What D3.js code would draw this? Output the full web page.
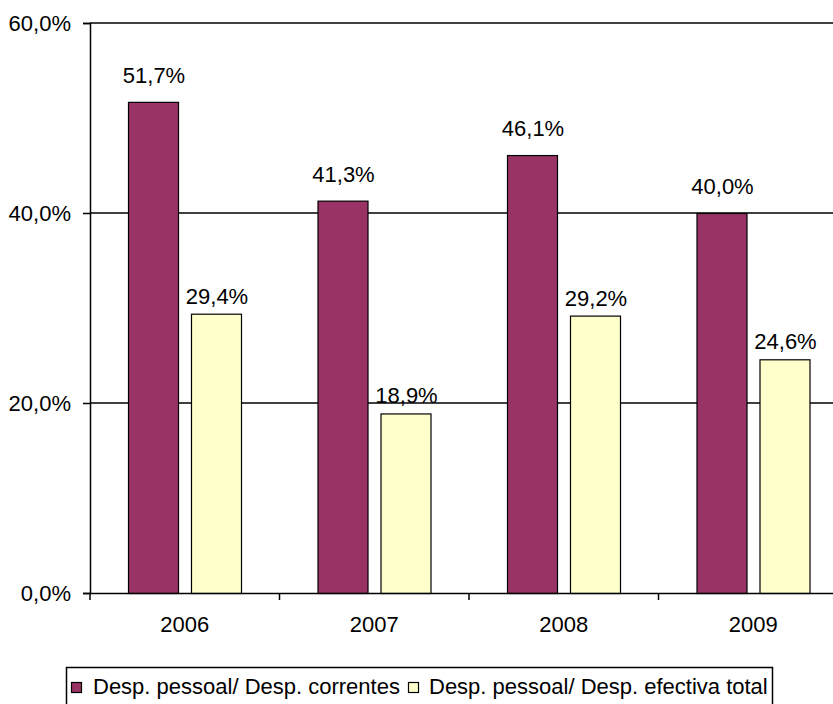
<!DOCTYPE html>
<html><head><meta charset="utf-8">
<script src="https://cdn.jsdelivr.net/npm/d3@7"></script>
<style>body{margin:0;background:#fff}svg{display:block}text{font-family:"Liberation Sans",Arial,sans-serif}</style>
</head><body>
<svg id="c" width="833" height="704"></svg>
<script>
const years = ["2006","2007","2008","2009"];
const seriesNames = ["Desp. pessoal/ Desp. correntes","Desp. pessoal/ Desp. efectiva total"];
const correntes = [51.7,41.3,46.1,40.0];
const efectiva = [29.4,18.9,29.2,24.6];
const yTicks = [0,20,40,60];
const colors = ["#993366","#FFFFCC"];

const svg = d3.select("#c");
const L=90, R=848, T=23, B=593;
const FS = 22;
const x = d3.scaleBand().domain(years).range([L,R]).paddingInner(0).paddingOuter(0);
const y = d3.scaleLinear().domain([0,60]).range([B,T]);
const fmt = v => d3.format(".1f")(v).replace(".",",")+"%";

// gridlines
svg.append("g").selectAll("line").data(yTicks.filter(d=>d>0)).join("line")
  .attr("x1",L).attr("x2",R).attr("y1",d=>y(d)).attr("y2",d=>y(d))
  .attr("stroke","#000").attr("stroke-width",1.5);

const inner = 38, bw = 50, gap = 13;
const labelOff = [19, 10];
const data = years.map((yr,i)=>({yr, vals:[correntes[i],efectiva[i]]}));
const g = svg.append("g");
data.forEach(d=>{
  d.vals.forEach((v,j)=>{
    const bx = x(d.yr) + inner + j*(bw+gap);
    g.append("rect").attr("x",bx+0.5).attr("y",y(v)+0.5).attr("width",bw).attr("height",B-y(v))
      .attr("fill",colors[j]).attr("stroke","#000").attr("stroke-width",1.2);
    g.append("text").attr("x",bx+bw/2+1).attr("y",y(v)-labelOff[j]).attr("text-anchor","middle")
      .attr("font-size",FS).attr("fill","#000").text(fmt(v));
  });
});

// y axis
const ya = d3.axisLeft(y).tickValues(yTicks).tickSize(7).tickFormat(fmt);
svg.append("g").attr("transform",`translate(${L},0)`).call(ya)
  .call(g=>{g.attr("font-size",null).attr("font-family",null);
    g.select(".domain").attr("stroke","#000").attr("stroke-width",1.5);
    g.selectAll(".tick line").attr("stroke","#000").attr("stroke-width",1.5);
    g.selectAll("text").attr("font-size",FS).attr("fill","#000").attr("x",-19).attr("dy","0.36em");});

// x axis
const xa = d3.axisBottom(x).tickSize(0).tickSizeOuter(0);
const xg = svg.append("g").attr("transform",`translate(0,${B})`).call(xa);
xg.attr("font-size",null).attr("font-family",null);
xg.select(".domain").attr("stroke","#000").attr("stroke-width",1.5);
xg.selectAll("text").attr("font-size",FS).attr("fill","#000").attr("y",39).attr("dy",0);
xg.selectAll(".bt").data(years.map(d=>x(d)).concat([R])).join("line")
  .attr("x1",d=>d).attr("x2",d=>d).attr("y1",0).attr("y2",7).attr("stroke","#000").attr("stroke-width",1.5);

// legend
const lg = svg.append("g");
lg.append("rect").attr("x",66.5).attr("y",667.5).attr("width",706).attr("height",45)
  .attr("fill","#fff").attr("stroke","#000").attr("stroke-width",1.5);
const mx = [71, 408];
const tx = [93, 429];
seriesNames.forEach((n,i)=>{
  lg.append("rect").attr("x",mx[i]+0.5).attr("y",682.5).attr("width",10).attr("height",10)
    .attr("fill",colors[i]).attr("stroke","#000").attr("stroke-width",1.2);
  lg.append("text").attr("x",tx[i]).attr("y",694).attr("font-size",FS).attr("fill","#000").text(n);
});
</script>
</body></html>
